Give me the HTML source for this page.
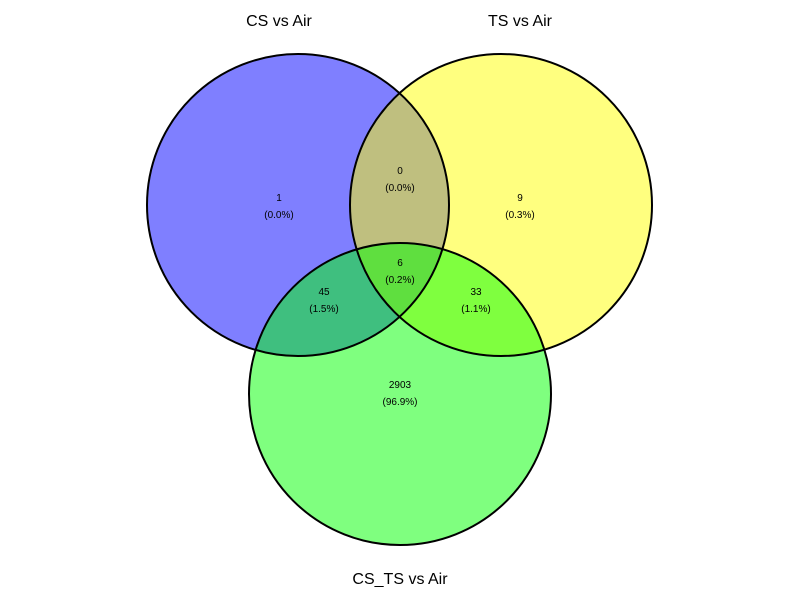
<!DOCTYPE html>
<html><head><meta charset="utf-8"><style>
html,body{margin:0;padding:0;background:#fff;}
svg{display:block;font-family:"Liberation Sans",sans-serif;}
</style></head><body>
<svg id="chart" width="800" height="600" viewBox="0 0 800 600"></svg>
<script>
const setNames = ["CS vs Air", "TS vs Air", "CS_TS vs Air"];
const setColors = ["#0000FF", "#FFFF00", "#00FF00"];
const regionKeys = ["A", "B", "AB", "ABC", "AC", "BC", "C"];
const regionCounts = [1, 9, 0, 6, 45, 33, 2903];

const NS = "http://www.w3.org/2000/svg";
const svg = document.getElementById("chart");
const circles = [{cx:298,cy:205},{cx:501,cy:205},{cx:400,cy:394}];
const R = 151;
const titlePos = [{x:279,y:26},{x:520,y:26},{x:400,y:584}];
const labelPos = {A:[279,201],B:[520,201],AB:[400,174],ABC:[400,266],AC:[324,295],BC:[476,295],C:[400,388]};

circles.forEach((c,i)=>{
  const el=document.createElementNS(NS,"circle");
  el.setAttribute("cx",c.cx);el.setAttribute("cy",c.cy);el.setAttribute("r",R);
  el.setAttribute("fill",setColors[i]);el.setAttribute("fill-opacity","0.5");
  
  
  svg.appendChild(el);
});
circles.forEach((c,i)=>{
  const el=document.createElementNS(NS,"circle");
  el.setAttribute("cx",c.cx);el.setAttribute("cy",c.cy);el.setAttribute("r",R);
  el.setAttribute("fill","none");el.setAttribute("stroke","#000");el.setAttribute("stroke-width","2");
  
  
  svg.appendChild(el);
});
setNames.forEach((n,i)=>{
  const t=document.createElementNS(NS,"text");
  t.setAttribute("x",titlePos[i].x);t.setAttribute("y",titlePos[i].y);
  t.setAttribute("text-anchor","middle");t.setAttribute("font-size","16");
  t.textContent=n;
  
  
  svg.appendChild(t);
});
const total = regionCounts.reduce((a,b)=>a+b,0);
regionKeys.forEach((k,i)=>{
  const p=labelPos[k];
  const t=document.createElementNS(NS,"text");
  t.setAttribute("x",p[0]);t.setAttribute("y",p[1]);
  t.setAttribute("text-anchor","middle");t.setAttribute("font-size","10");
  t.textContent=regionCounts[i];
  
  
  svg.appendChild(t);
  const t2=document.createElementNS(NS,"text");
  t2.setAttribute("x",p[0]);t2.setAttribute("y",p[1]+17);
  t2.setAttribute("text-anchor","middle");t2.setAttribute("font-size","10");
  t2.textContent="("+(regionCounts[i]/total*100).toFixed(1)+"%)";
  
  
  svg.appendChild(t2);
});
</script>
</body></html>
